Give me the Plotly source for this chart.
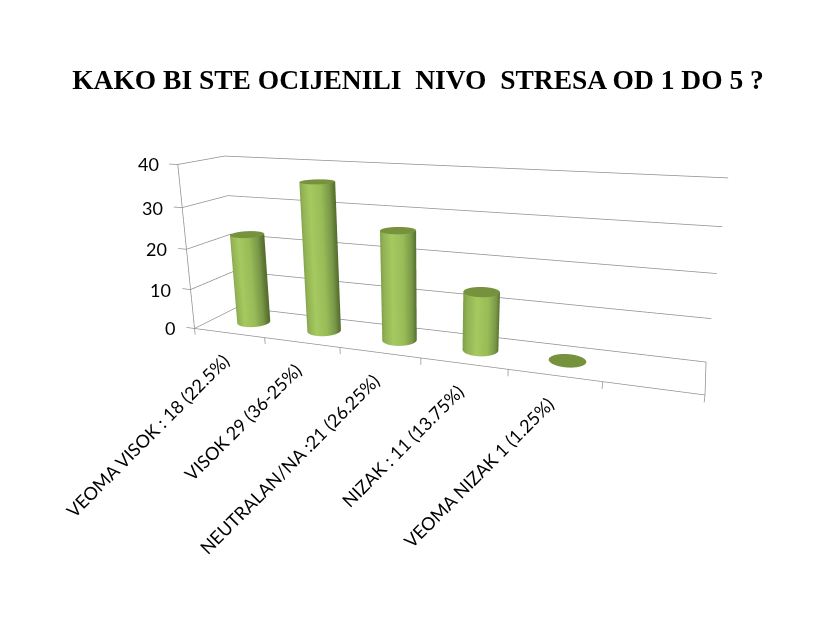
import numpy as np
import plotly.graph_objects as go

TITLE = "KAKO BI STE OCIJENILI \u00a0NIVO \u00a0STRESA OD 1 DO 5 ?"
categories = ["VEOMA VISOK : 18 (22.5%)", "VISOK 29 (36-25%)", "NEUTRALAN/NA :21 (26.25%)",
              "NIZAK : 11 (13.75%)", "VEOMA NIZAK 1 (1.25%)", ""]
values = [22.5, 36.25, 26.25, 13.75, 0]
z_ticks = [0, 10, 20, 30, 40]

XR = (-0.25, 6.1); YR = (-0.1, 1.05); ZR = (-2.5, 41.0)
aspect = [2.0573, 0.3493, 0.7095]
eye = [0.9193, -2.5415, 0.6834]
cen = [0.0559, -0.1186, -0.1512]
x_unit, y_unit = aspect[0]/(XR[1]-XR[0]), aspect[1]/(YR[1]-YR[0])

fig = go.Figure()
GRID = "#8f8f8f"
gx, gy, gz = [], [], []
def seg(a, b):
    gx.extend([a[0], b[0], None]); gy.extend([a[1], b[1], None]); gz.extend([a[2], b[2], None])
n_cat = len(categories)
for z in z_ticks:
    seg((-0.12, 0, z), (0, 0, z)); seg((0, 0, z), (0, 1, z)); seg((0, 1, z), (n_cat, 1, z))
seg((0, 0, 0), (0, 0, z_ticks[-1])); seg((0, 0, 0), (n_cat, 0, 0)); seg((n_cat, 0, 0), (n_cat, 1, 0))
for i in range(n_cat+1):
    seg((i, 0, 0), (i, 0, -1.6))
fig.add_trace(go.Scatter3d(x=gx, y=gy, z=gz, mode="lines", line=dict(color=GRID, width=1.5),
                           hoverinfo="skip", showlegend=False))

RX = 0.205; RY = RX*x_unit/y_unit
scale = [[0, "#7f9e4a"], [.1, "#92b254"], [.35, "#a6c960"], [.65, "#9abc58"], [.88, "#7a9848"], [1, "#566f2e"]]
flat = dict(ambient=1, diffuse=0, specular=0, fresnel=0)
th = np.linspace(0, 2*np.pi, 145)
fw = np.array(cen[:2])-np.array(eye[:2]); fw = fw/np.linalg.norm(fw)
shade = (np.cos(th)*fw[1]-np.sin(th)*fw[0]+1)/2
for i, v in enumerate(values):
    cx_, cy = i+.555, .5
    X = np.outer(cx_+RX*np.cos(th), [1, 1]); Y = np.outer(cy+RY*np.sin(th), [1, 1]); Z = np.outer(np.ones_like(th), [0, v])
    fig.add_trace(go.Surface(x=X, y=Y, z=Z, surfacecolor=shade[:, None]*np.ones((145, 2)), colorscale=scale,
                             cmin=0, cmax=1, showscale=False, lighting=flat, hoverinfo="skip"))
    rad = np.array([0, 1.0])
    fig.add_trace(go.Surface(x=cx_+RX*np.outer(np.cos(th), rad), y=cy+RY*np.outer(np.sin(th), rad), z=v*np.ones((145, 2)),
                             surfacecolor=np.zeros((145, 2)), colorscale=[[0, "#76923c"], [1, "#76923c"]],
                             showscale=False, lighting=flat, hoverinfo="skip"))

ann = []
for z in z_ticks:
    ann.append(dict(x=0, y=0, z=z, text=str(z), showarrow=False, xanchor="right", yanchor="middle", xshift=-17,
                    font=dict(family="Lato", size=18, color="#000")))
for i, c_ in enumerate(categories[:5]):
    ann.append(dict(x=i+.5, y=0, z=0, text=c_, showarrow=False, textangle=-45, xanchor="right", yanchor="top",
                    xshift=7, yshift=-14, font=dict(family="Lato", size=18, color="#000")))
off = dict(visible=False, showgrid=False, showline=False, zeroline=False, showticklabels=False, showspikes=False)
fig.update_layout(width=837, height=628, margin=dict(l=0, r=0, t=0, b=0), paper_bgcolor="white", showlegend=False,
    title=dict(text="<b>%s</b>" % TITLE, x=.4994, xanchor="center", y=.873, yanchor="middle",
               font=dict(family="Liberation Serif", size=27.5, color="#000")),
    scene=dict(domain=dict(x=[.0308, 1], y=[0, 1]), aspectmode="manual",
        aspectratio=dict(x=aspect[0], y=aspect[1], z=aspect[2]),
        xaxis=dict(range=XR, **off), yaxis=dict(range=YR, **off), zaxis=dict(range=ZR, **off),
        camera=dict(eye=dict(x=eye[0], y=eye[1], z=eye[2]), center=dict(x=cen[0], y=cen[1], z=cen[2]),
                    up=dict(x=0, y=0, z=1), projection=dict(type="perspective")),
        annotations=ann))
fig.write_html("out.html", config={"displayModeBar": False}, post_script="document.body.style.margin='0';")
